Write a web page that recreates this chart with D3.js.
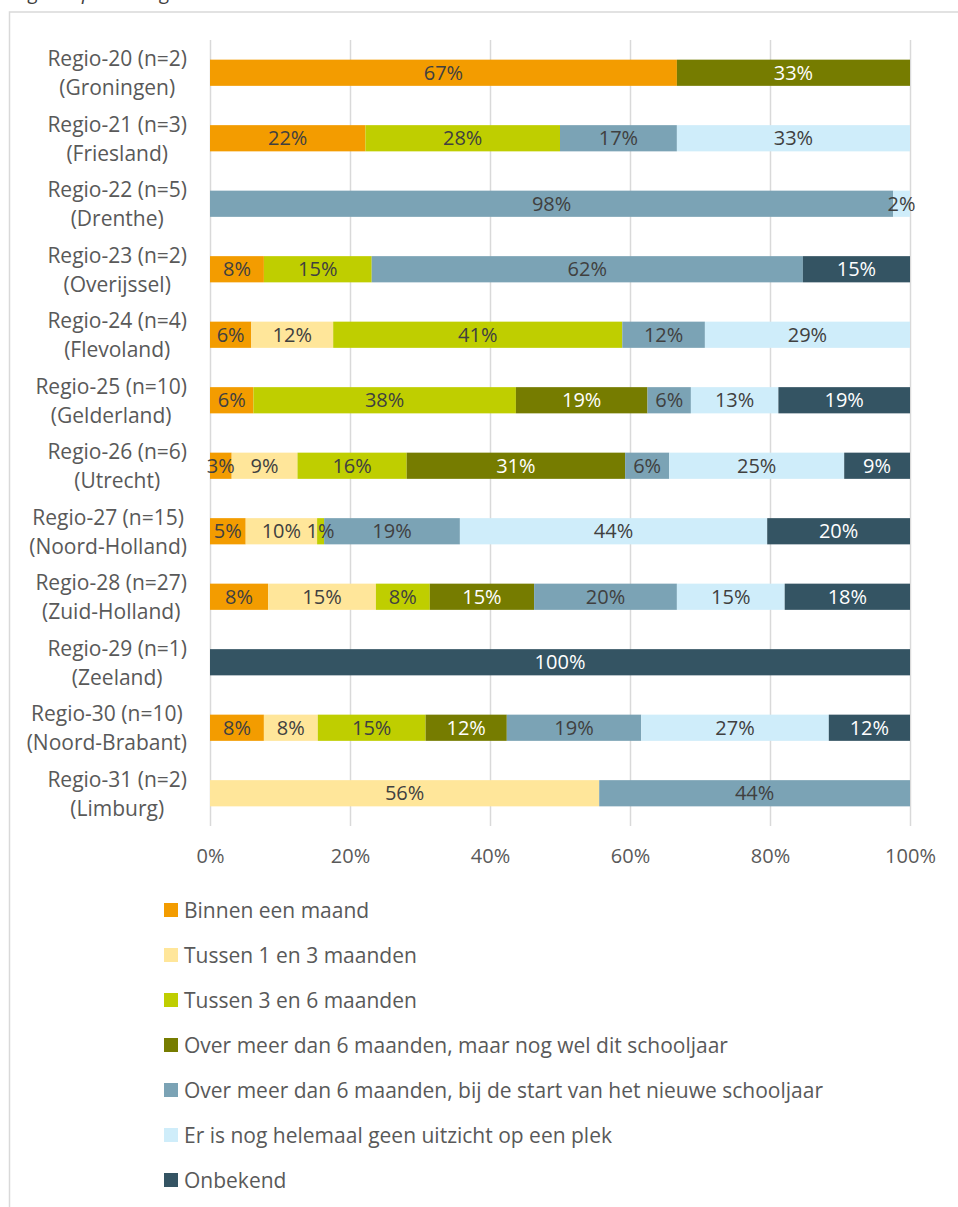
<!DOCTYPE html>
<html>
<head>
<meta charset="utf-8">
<script src="https://cdn.jsdelivr.net/npm/d3@7"></script>
<style>
  body { margin: 0; background: #fff; }
  svg { display: block; }
</style>
</head>
<body>
<svg id="chart" width="958" height="1207"></svg>
<script>
// regions, top to bottom
var regions = [
    ["Regio-20 (n=2)", "(Groningen)"],
    ["Regio-21 (n=3)", "(Friesland)"],
    ["Regio-22 (n=5)", "(Drenthe)"],
    ["Regio-23 (n=2)", "(Overijssel)"],
    ["Regio-24 (n=4)", "(Flevoland)"],
    ["Regio-25 (n=10)", "(Gelderland)"],
    ["Regio-26 (n=6)", "(Utrecht)"],
    ["Regio-27 (n=15)", "(Noord-Holland)"],
    ["Regio-28 (n=27)", "(Zuid-Holland)"],
    ["Regio-29 (n=1)", "(Zeeland)"],
    ["Regio-30 (n=10)", "(Noord-Brabant)"],
    ["Regio-31 (n=2)", "(Limburg)"]
];

var seriesNames = [
    "Binnen een maand",
    "Tussen 1 en 3 maanden",
    "Tussen 3 en 6 maanden",
    "Over meer dan 6 maanden, maar nog wel dit schooljaar",
    "Over meer dan 6 maanden, bij de start van het nieuwe schooljaar",
    "Er is nog helemaal geen uitzicht op een plek",
    "Onbekend"
];

var seriesColors = ["#F39C00", "#FFE69A", "#BFCE00", "#767C00", "#7BA3B5", "#CFEDFA", "#345463"];
// label colour per series: dark text on light fills, white on dark fills
var labelColors = ["#404040", "#404040", "#404040", "#ffffff", "#404040", "#404040", "#ffffff"];

// percentages per region, one column per series (same order as seriesNames)
var binnenMaand   = [66.7, 22.2, 0,    7.7,  5.9,  6.2,  3.1,  5.1,  8.3,  0,   7.7,  0];
var tussen1en3    = [0,    0,    0,    0,    11.7, 0,    9.4,  10.2, 15.4, 0,   7.7,  55.6];
var tussen3en6    = [0,    27.8, 0,    15.4, 41.3, 37.5, 15.6, 1.0,  7.7,  0,   15.4, 0];
var ditSchooljaar = [33.3, 0,    0,    0,    0,    18.8, 31.2, 0,    14.9, 0,   11.6, 0];
var nieuwJaar     = [0,    16.7, 97.6, 61.6, 11.8, 6.2,  6.3,  19.4, 20.4, 0,   19.2, 44.4];
var geenUitzicht  = [0,    33.3, 2.4,  0,    29.3, 12.5, 25.0, 43.9, 15.4, 0,   26.8, 0];
var onbekend      = [0,    0,    0,    15.3, 0,    18.8, 9.4,  20.4, 17.9, 100, 11.6, 0];

var tickValues = [0, 20, 40, 60, 80, 100];

var columns = [binnenMaand, tussen1en3, tussen3en6, ditSchooljaar, nieuwJaar, geenUitzicht, onbekend];
var rows = regions.map(function (r, i) {
    var row = { key: r[0], lines: r };
    seriesNames.forEach(function (s, j) { row[s] = columns[j][i]; });
    return row;
});

var svg = d3.select("#chart");
var font = "'Open Sans', 'DejaVu Sans', sans-serif";

// cut-off title at the very top
svg.append("text")
    .attr("x", 7).attr("y", -1)
    .style("font-family", font)
    .style("font-style", "italic")
    .style("font-size", "20px")
    .style("fill", "#404040")
    .text("Regio in percentages");

// chart border (only top and left edges visible)
svg.append("rect")
    .attr("x", 9.5).attr("y", 12)
    .attr("width", 1000).attr("height", 1300)
    .style("fill", "none")
    .style("stroke", "#d9d9d9")
    .style("stroke-width", 1.5);

var plotLeft = 210, plotRight = 910, plotTop = 40, plotBottom = 826;

var x = d3.scaleLinear().domain([0, 100]).range([plotLeft, plotRight]);
var y = d3.scaleBand()
    .domain(rows.map(d => d.key))
    .range([plotTop, plotBottom])
    .paddingInner(0.6)
    .paddingOuter(0.3);

// gridlines
var grid = svg.append("g")
    .attr("transform", `translate(0,${plotBottom})`)
    .call(d3.axisBottom(x).tickValues(tickValues).tickSize(-(plotBottom - plotTop)).tickFormat(""));
grid.select(".domain").remove();
grid.selectAll("line").style("stroke", "#d9d9d9").style("stroke-width", 1.5);

// tick labels
var axis = svg.append("g")
    .attr("transform", `translate(0,${plotBottom})`)
    .call(d3.axisBottom(x).tickValues(tickValues).tickSize(0).tickPadding(23).tickFormat(d => d + "%"));
axis.select(".domain").remove();
axis.selectAll("text")
    .style("font-family", font)
    .style("font-size", "20px")
    .style("fill", "#595959");

// stacked bars
var stack = d3.stack().keys(seriesNames);
var stacked = stack(rows);

var layers = svg.append("g").selectAll("g.layer")
    .data(stacked)
    .enter()
    .append("g")
    .attr("class", "layer")
    .style("fill", (d, i) => seriesColors[i]);

layers.selectAll("rect")
    .data(d => d)
    .enter()
    .append("rect")
    .attr("x", d => x(d[0]))
    .attr("y", d => y(d.data.key))
    .attr("width", d => x(d[1]) - x(d[0]))
    .attr("height", y.bandwidth());

// data labels
var labelLayer = svg.append("g");
stacked.forEach(function (layer, i) {
    labelLayer.selectAll("text.l" + i)
        .data(layer.filter(d => d[1] - d[0] > 0))
        .enter()
        .append("text")
        .attr("class", "l" + i)
        .attr("x", d => x((d[0] + d[1]) / 2))
        .attr("y", d => y(d.data.key) + y.bandwidth() / 2)
        .attr("dy", "0.36em")
        .attr("text-anchor", "middle")
        .style("font-family", font)
        .style("font-size", "20px")
        .style("fill", labelColors[i])
        .text(d => Math.round(d[1] - d[0]) + "%");
});

// category labels, two centred lines, block right-aligned
var catRight = 187;
var cats = svg.append("g").selectAll("text.cat")
    .data(rows)
    .enter()
    .append("text")
    .attr("class", "cat")
    .attr("text-anchor", "middle")
    .style("font-family", font)
    .style("font-size", "21px")
    .style("fill", "#595959");

cats.each(function (d) {
    var t = d3.select(this);
    var c = y(d.key) + y.bandwidth() / 2;
    t.append("tspan").attr("y", c - 6.5).text(d.lines[0]);
    t.append("tspan").attr("y", c + 22.5).text(d.lines[1]);
    var w = 0;
    t.selectAll("tspan").each(function () {
        w = Math.max(w, this.getComputedTextLength());
    });
    t.selectAll("tspan").attr("x", catRight - w / 2);
});

// legend
var legend = svg.append("g").selectAll("g.legend")
    .data(seriesNames)
    .enter()
    .append("g")
    .attr("class", "legend")
    .attr("transform", (d, i) => `translate(164,${910 + i * 45})`);

legend.append("rect")
    .attr("x", 0).attr("y", -7)
    .attr("width", 14).attr("height", 14)
    .style("fill", (d, i) => seriesColors[i]);

legend.append("text")
    .attr("x", 20)
    .attr("dy", "0.36em")
    .style("font-family", font)
    .style("font-size", "21px")
    .style("fill", "#595959")
    .text(d => d);
</script>
</body>
</html>
